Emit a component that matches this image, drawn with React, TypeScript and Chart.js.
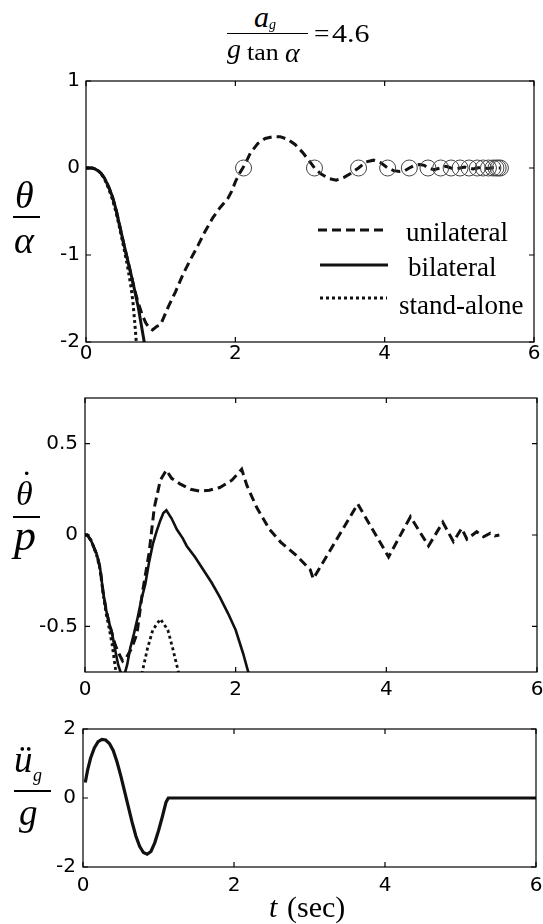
import React, { useEffect, useRef } from 'react';
import { Chart, registerables } from 'chart.js';

Chart.register(...registerables);

// ---------------- data ----------------
const xTicks = [0, 2, 4, 6];
const yTicks1 = [-2, -1, 0, 1];
const yTicks2 = [-0.5, 0, 0.5];
const yTicks3 = [-2, 0, 2];

// Panel 1: theta / alpha
const uniT1 = [0, 0.08, 0.12, 0.16, 0.2, 0.25, 0.3, 0.35, 0.4, 0.45, 0.5, 0.55, 0.6, 0.65, 0.7, 0.75, 0.8, 0.85, 0.89, 0.95, 1.0, 1.05, 1.1, 1.2, 1.3, 1.4, 1.5, 1.6, 1.7, 1.8, 1.9, 1.95, 2.0, 2.05, 2.1, 2.15, 2.2, 2.3, 2.4, 2.5, 2.6, 2.7, 2.8, 2.9, 3.0, 3.06, 3.15, 3.25, 3.35, 3.45, 3.55, 3.65, 3.75, 3.85, 3.95, 4.04, 4.12, 4.2, 4.27, 4.33, 4.4, 4.47, 4.53, 4.58, 4.66, 4.75, 4.82, 4.89, 4.95, 5.01, 5.07, 5.13, 5.18, 5.24, 5.29, 5.34, 5.38, 5.42, 5.46, 5.5, 5.55];
const uniY1 = [0, 0, -0.01, -0.03, -0.06, -0.12, -0.21, -0.32, -0.47, -0.66, -0.85, -1.03, -1.21, -1.4, -1.55, -1.68, -1.78, -1.84, -1.86, -1.82, -1.8, -1.7, -1.6, -1.42, -1.22, -1.05, -0.89, -0.72, -0.57, -0.45, -0.35, -0.27, -0.16, -0.07, 0.0, 0.08, 0.17, 0.28, 0.34, 0.36, 0.36, 0.33, 0.27, 0.18, 0.07, 0.0, -0.07, -0.12, -0.14, -0.11, -0.06, 0.0, 0.07, 0.09, 0.06, 0.0, -0.03, -0.04, -0.03, 0.0, 0.03, 0.04, 0.03, 0.0, -0.02, 0.0, 0.02, 0.0, -0.015, 0.0, 0.012, 0.0, -0.01, 0.0, 0.008, 0.0, -0.005, 0.0, 0.004, 0.0, 0.0];
const biT1 = [0, 0.08, 0.12, 0.16, 0.2, 0.25, 0.3, 0.35, 0.4, 0.45, 0.5, 0.55, 0.6, 0.65, 0.7, 0.75, 0.8];
const biY1 = [0, 0, -0.01, -0.03, -0.06, -0.12, -0.21, -0.32, -0.47, -0.66, -0.85, -1.03, -1.21, -1.4, -1.6, -1.85, -2.1];
const saT1 = [0, 0.08, 0.12, 0.16, 0.2, 0.25, 0.3, 0.35, 0.4, 0.45, 0.5, 0.55, 0.6, 0.63, 0.66, 0.69];
const saY1 = [0, 0, -0.01, -0.03, -0.06, -0.13, -0.23, -0.35, -0.5, -0.69, -0.89, -1.1, -1.35, -1.55, -1.85, -2.2];
const impactT = [2.11, 3.06, 3.65, 4.04, 4.33, 4.58, 4.75, 4.89, 5.01, 5.13, 5.24, 5.32, 5.39, 5.45, 5.49, 5.52, 5.55];

// Panel 2: theta-dot / p
const uniT2 = [0, 0.03, 0.08, 0.12, 0.16, 0.2, 0.24, 0.28, 0.32, 0.36, 0.4, 0.45, 0.5, 0.55, 0.62, 0.69, 0.76, 0.85, 0.92, 1.0, 1.08, 1.15, 1.26, 1.4, 1.53, 1.65, 1.79, 1.95, 2.08, 2.15, 2.28, 2.45, 2.6, 2.8, 2.99, 3.03, 3.62, 4.03, 4.32, 4.56, 4.75, 4.89, 5.0, 5.07, 5.2, 5.29, 5.38, 5.44, 5.5];
const uniY2 = [0, 0, -0.03, -0.07, -0.11, -0.18, -0.31, -0.41, -0.48, -0.54, -0.6, -0.65, -0.69, -0.67, -0.62, -0.54, -0.32, -0.1, 0.15, 0.3, 0.355, 0.31, 0.28, 0.25, 0.24, 0.245, 0.26, 0.3, 0.36, 0.27, 0.15, 0.03, -0.04, -0.11, -0.19, -0.24, 0.17, -0.12, 0.1, -0.06, 0.07, -0.036, 0.036, -0.023, 0.018, -0.01, 0.01, -0.005, 0.0];
const biT2 = [0, 0.03, 0.08, 0.12, 0.16, 0.2, 0.24, 0.28, 0.32, 0.36, 0.4, 0.44, 0.48, 0.52, 0.56, 0.6, 0.65, 0.7, 0.75, 0.8, 0.85, 0.9, 0.95, 1.0, 1.04, 1.08, 1.15, 1.22, 1.3, 1.35, 1.46, 1.57, 1.68, 1.79, 1.9, 2.0, 2.1, 2.16, 2.22];
const biY2 = [0, 0, -0.03, -0.07, -0.11, -0.18, -0.31, -0.41, -0.48, -0.54, -0.63, -0.71, -0.76, -0.77, -0.71, -0.62, -0.54, -0.45, -0.35, -0.27, -0.15, -0.05, 0.02, 0.08, 0.12, 0.135, 0.09, 0.03, -0.02, -0.06, -0.12, -0.19, -0.26, -0.34, -0.43, -0.52, -0.65, -0.74, -0.83];
const saT2 = [0, 0.03, 0.08, 0.12, 0.16, 0.2, 0.24, 0.28, 0.32, 0.36, 0.4, 0.43, 0.72, 0.76, 0.83, 0.9, 1.0, 1.1, 1.17, 1.24, 1.28];
const saY2 = [0, 0, -0.03, -0.07, -0.12, -0.19, -0.32, -0.43, -0.51, -0.6, -0.72, -0.8, -0.95, -0.75, -0.62, -0.52, -0.46, -0.52, -0.63, -0.75, -0.82];

// Panel 3: ground acceleration / g
const accT = [0.03, 0.06, 0.1, 0.15, 0.2, 0.25, 0.3, 0.35, 0.4, 0.45, 0.5, 0.55, 0.6, 0.65, 0.7, 0.75, 0.8, 0.85, 0.9, 0.95, 1.0, 1.05, 1.1, 1.13, 6];
const accY = [0.45, 0.8, 1.15, 1.45, 1.63, 1.7, 1.68, 1.58, 1.38, 1.05, 0.65, 0.2, -0.25, -0.7, -1.1, -1.4, -1.58, -1.63, -1.55, -1.3, -0.95, -0.55, -0.12, 0, 0];

// ---------------- helpers ----------------
const toXY = (xs: number[], ys: number[]) => xs.map((x, i) => ({ x, y: ys[i] }));
const SERIF = "'Liberation Serif','Times New Roman',serif";
const SANS = "'DejaVu Sans', sans-serif";
const BLACK = '#111';

const framePlugin = {
  id: 'frame',
  afterDatasetsDraw(chart: any) {
    const { ctx, chartArea: a, scales } = chart;
    const xs = scales.x;
    const ys = scales.y;
    ctx.save();
    ctx.strokeStyle = '#000';
    ctx.lineWidth = 1.2;
    ctx.setLineDash([]);
    ctx.strokeRect(a.left, a.top, a.right - a.left, a.bottom - a.top);
    ctx.beginPath();
    const tl = 5;
    xs.ticks.forEach((t: any) => {
      const p = xs.getPixelForValue(t.value);
      ctx.moveTo(p, a.bottom);
      ctx.lineTo(p, a.bottom - tl);
      ctx.moveTo(p, a.top);
      ctx.lineTo(p, a.top + tl);
    });
    ys.ticks.forEach((t: any) => {
      const p = ys.getPixelForValue(t.value);
      ctx.moveTo(a.left, p);
      ctx.lineTo(a.left + tl, p);
      ctx.moveTo(a.right, p);
      ctx.lineTo(a.right - tl, p);
    });
    ctx.stroke();
    ctx.restore();
  },
};

type Cfg = {
  top: number;
  height: number;
  L: number;
  padTop: number;
  padRight: number;
  xH: number;
  xPad: number;
  yPad: number;
  yMin: number;
  yMax: number;
  yTicks: number[];
};

function buildOptions(cfg: Cfg): any {
  const tickFont = { family: SANS, size: 20 };
  return {
    responsive: false,
    animation: false,
    devicePixelRatio: 1,
    events: [],
    layout: { padding: { top: cfg.padTop, right: cfg.padRight, bottom: 0, left: 0 } },
    plugins: { legend: { display: false }, tooltip: { enabled: false }, title: { display: false } },
    scales: {
      x: {
        type: 'linear',
        min: 0,
        max: 6,
        grid: { display: false, drawTicks: false },
        border: { display: false },
        ticks: { padding: cfg.xPad, color: '#000', font: tickFont, maxRotation: 0, autoSkip: false, callback: (v: number) => String(v) },
        afterBuildTicks: (s: any) => { s.ticks = xTicks.map((v) => ({ value: v })); },
        afterFit: (s: any) => { s.height = cfg.xH; s.paddingLeft = 0; s.paddingRight = 0; },
      },
      y: {
        type: 'linear',
        min: cfg.yMin,
        max: cfg.yMax,
        grid: { display: false, drawTicks: false },
        border: { display: false },
        ticks: { padding: cfg.yPad, color: '#000', font: tickFont, autoSkip: false, callback: (v: number) => String(v) },
        afterBuildTicks: (s: any) => { s.ticks = cfg.yTicks.map((v) => ({ value: v })); },
        afterFit: (s: any) => { s.width = cfg.L; s.paddingTop = 0; s.paddingBottom = 0; },
      },
    },
  };
}

const lineDs = (label: string, data: any[], width: number, dash: number[]) => ({
  label,
  data,
  borderColor: BLACK,
  backgroundColor: BLACK,
  borderWidth: width,
  borderDash: dash,
  pointRadius: 0,
  tension: 0,
  fill: false,
  clip: 0,
});

const DASH = [9, 5];
const DOT = [3, 3];

const cfg1: Cfg = { top: 60, height: 320, L: 86, padTop: 21, padRight: 8, xH: 38, xPad: 0, yPad: 6, yMin: -2, yMax: 1, yTicks: yTicks1 };
const cfg2: Cfg = { top: 385, height: 330, L: 85, padTop: 13, padRight: 6, xH: 43, xPad: 6, yPad: 7, yMin: -0.75, yMax: 0.75, yTicks: yTicks2 };
const cfg3: Cfg = { top: 720, height: 180, L: 83, padTop: 9, padRight: 7, xH: 33, xPad: 7, yPad: 7, yMin: -2, yMax: 2, yTicks: yTicks3 };

function legendPlugin(canvasTop: number) {
  return {
    id: 'legendSamples',
    afterDatasetsDraw(chart: any) {
      const { ctx } = chart;
      const rows = [
        { y: 230, x0: 318, x1: 388, dash: DASH },
        { y: 265, x0: 320, x1: 388, dash: [] as number[] },
        { y: 298, x0: 320, x1: 387, dash: DOT },
      ];
      ctx.save();
      ctx.strokeStyle = BLACK;
      ctx.lineWidth = 3;
      rows.forEach((r) => {
        ctx.setLineDash(r.dash);
        ctx.beginPath();
        ctx.moveTo(r.x0, r.y - canvasTop);
        ctx.lineTo(r.x1, r.y - canvasTop);
        ctx.stroke();
      });
      ctx.restore();
    },
  };
}

function useChart(ref: React.RefObject<HTMLCanvasElement | null>, make: (c: HTMLCanvasElement) => Chart) {
  useEffect(() => {
    if (!ref.current) return;
    const ch = make(ref.current);
    return () => ch.destroy();
  }, []);
}

function Txt({ x, base, size, italic, sx = 1, children }: any) {
  return (
    <span
      style={{
        position: 'absolute',
        left: x,
        top: base - 0.8375 * size,
        fontSize: size,
        lineHeight: `${size}px`,
        fontFamily: SERIF,
        fontStyle: italic ? 'italic' : 'normal',
        whiteSpace: 'nowrap',
        transform: sx !== 1 ? `scaleX(${sx})` : undefined,
        transformOrigin: 'left top',
        color: '#000',
      }}
    >
      {children}
    </span>
  );
}

function Bar({ x, y, w, h = 1.3 }: any) {
  return <div style={{ position: 'absolute', left: x, top: y, width: w, height: h, background: '#000' }} />;
}

export default function App() {
  const r1 = useRef<HTMLCanvasElement>(null);
  const r2 = useRef<HTMLCanvasElement>(null);
  const r3 = useRef<HTMLCanvasElement>(null);

  useChart(r1, (c) =>
    new Chart(c, {
      type: 'line',
      data: {
        datasets: [
          {
            label: 'impacts',
            data: impactT.map((t) => ({ x: t, y: 0 })),
            showLine: false,
            pointRadius: 8,
            pointStyle: 'circle',
            pointBackgroundColor: 'rgba(0,0,0,0)',
            pointBorderColor: '#444',
            pointBorderWidth: 1,
          } as any,
          lineDs('unilateral', toXY(uniT1, uniY1), 3, DASH),
          lineDs('stand-alone', toXY(saT1, saY1), 3, DOT),
          lineDs('bilateral', toXY(biT1, biY1), 3, []),
        ],
      },
      options: buildOptions(cfg1),
      plugins: [framePlugin, legendPlugin(cfg1.top)],
    })
  );

  useChart(r2, (c) =>
    new Chart(c, {
      type: 'line',
      data: {
        datasets: [
          lineDs('unilateral', toXY(uniT2, uniY2), 3, DASH),
          lineDs('stand-alone', toXY(saT2, saY2), 2.8, DOT),
          lineDs('bilateral', toXY(biT2, biY2), 2.6, []),
        ],
      },
      options: buildOptions(cfg2),
      plugins: [framePlugin],
    })
  );

  useChart(r3, (c) =>
    new Chart(c, {
      type: 'line',
      data: { datasets: [lineDs('ground acceleration', toXY(accT, accY), 3.2, [])] },
      options: buildOptions(cfg3),
      plugins: [framePlugin],
    })
  );

  return (
    <div style={{ position: 'absolute', left: 0, top: 0, width: 543, height: 924, background: '#fff', overflow: 'hidden' }}>
      <canvas ref={r1} width={543} height={cfg1.height} style={{ position: 'absolute', left: 0, top: cfg1.top }} />
      <canvas ref={r2} width={543} height={cfg2.height} style={{ position: 'absolute', left: 0, top: cfg2.top }} />
      <canvas ref={r3} width={543} height={cfg3.height} style={{ position: 'absolute', left: 0, top: cfg3.top }} />

      {/* title: a_g / (g tan alpha) = 4.6 */}
      <Txt x={254} base={26.7} size={30} italic>a</Txt>
      <Txt x={269} base={30} size={14} italic>g</Txt>
      <Bar x={227} y={33} w={81} />
      <Txt x={227} base={58.5} size={28} italic>g</Txt>
      <Txt x={247} base={60} size={24} sx={1.08}>tan</Txt>
      <Txt x={285} base={62} size={28} italic>α</Txt>
      <Txt x={314} base={41.7} size={25} sx={1.1}>=</Txt>
      <Txt x={332} base={41.7} size={25} sx={1.2}>4.6</Txt>

      {/* panel 1 y label */}
      <Txt x={15} base={208} size={38} italic>θ</Txt>
      <Bar x={13} y={216} w={27} h={1.6} />
      <Txt x={14} base={253} size={38} italic>α</Txt>

      {/* legend text */}
      <Txt x={406} base={241.7} size={27}>unilateral</Txt>
      <Txt x={408} base={276.7} size={27}>bilateral</Txt>
      <Txt x={399} base={315} size={27}>stand-alone</Txt>

      {/* panel 2 y label */}
      <Txt x={21} base={494} size={34}>˙</Txt>
      <Txt x={16} base={505} size={34} italic>θ</Txt>
      <Bar x={13} y={516} w={27} h={1.6} />
      <Txt x={14} base={551} size={44} italic>p</Txt>

      {/* panel 3 y label */}
      <Txt x={14} base={772} size={37} italic>ü</Txt>
      <Txt x={33} base={781} size={18} italic>g</Txt>
      <Bar x={14} y={790} w={37} h={1.6} />
      <Txt x={19} base={825} size={37} italic>g</Txt>

      {/* x label */}
      <Txt x={269} base={917.6} size={30} italic>t</Txt>
      <Txt x={287} base={917.6} size={30}>(sec)</Txt>
    </div>
  );
}
